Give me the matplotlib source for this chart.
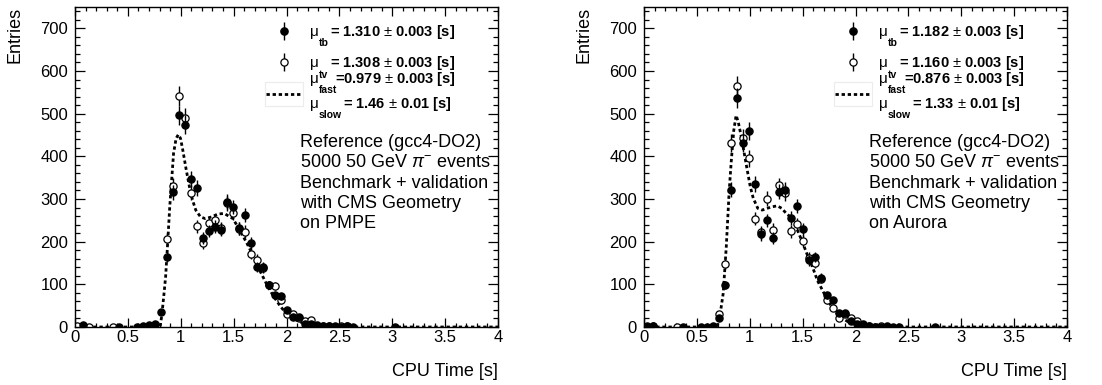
import numpy as np
import matplotlib
matplotlib.use("Agg")
import matplotlib.pyplot as plt
from matplotlib.patches import Rectangle
from matplotlib.ticker import MultipleLocator

plt.rcParams['font.family'] = ['Liberation Sans', 'DejaVu Sans']
plt.rcParams['mathtext.fontset'] = 'custom'
plt.rcParams['mathtext.rm'] = 'Liberation Sans'
plt.rcParams['mathtext.it'] = 'Liberation Sans:italic'
plt.rcParams['mathtext.bf'] = 'Liberation Sans:bold'

# ---- left panel (PMPE) ----
pmpe_tb_x = [0.076, 0.416, 0.586, 0.643, 0.700, 0.757, 0.813, 0.870, 0.927, 0.983,
             1.040, 1.097, 1.154, 1.210, 1.267, 1.324, 1.381, 1.437, 1.494, 1.551,
             1.608, 1.664, 1.721, 1.778, 1.835, 1.891, 1.948, 2.005, 2.061, 2.118,
             2.175, 2.232, 2.288, 2.345, 2.402, 2.459, 2.515, 2.572, 2.629, 3.024]
pmpe_tb_y = [4, 0, 0, 2, 4, 7, 35, 165, 316, 496,
             474, 346, 326, 208, 225, 235, 228, 294, 281, 231,
             262, 197, 141, 141, 99, 74, 72, 41, 23, 23,
             8, 8, 4, 3, 2, 2, 1, 2, 0, 0]
pmpe_tv_x = [0.019, 0.132, 0.359, 0.700, 0.870, 0.927, 0.983, 1.040, 1.097, 1.154,
             1.210, 1.267, 1.324, 1.381, 1.437, 1.494, 1.551, 1.608, 1.664, 1.721,
             1.778, 1.835, 1.891, 1.948, 2.005, 2.061, 2.118, 2.175, 2.232, 2.288,
             2.345, 2.402, 2.459, 2.515, 2.572]
pmpe_tv_y = [2, 1, 1, 2, 207, 330, 541, 490, 315, 236,
             198, 243, 250, 231, 290, 268, 230, 223, 172, 158,
             138, 99, 96, 63, 30, 30, 22, 15, 16, 3,
             2, 2, 1, 3, 2]
pmpe_fit_x = [0.0, 0.78, 0.806, 0.822, 0.842, 0.857, 0.878, 0.896, 0.914, 0.932,
              0.956, 0.977, 0.998, 1.022, 1.052, 1.082, 1.112, 1.142, 1.187, 1.232,
              1.292, 1.352, 1.412, 1.494, 1.557, 1.620, 1.683, 1.746, 1.809, 1.872,
              1.935, 1.998, 2.061, 2.125, 2.219, 2.314, 2.44, 2.6, 4.0]
pmpe_fit_y = [0, 0, 1, 30, 79, 118, 204, 282, 344, 407,
              442, 451, 442, 411, 368, 329, 297, 274, 258, 254,
              258, 265, 266, 254, 227, 199, 168, 133, 102, 74,
              51, 31, 20, 12, 5, 2, 1, 0, 0]
pmpe_legend = ["= 1.310 $\\pm$ 0.003 [s]", "= 1.308 $\\pm$ 0.003 [s]",
               "=0.979 $\\pm$ 0.003 [s]", "= 1.46 $\\pm$ 0.01 [s]"]
pmpe_info = ["Reference (gcc4-DO2)", "5000 50 GeV $\\pi^{-}$ events",
             "Benchmark + validation", "with CMS Geometry", "on PMPE"]

# ---- right panel (Aurora) ----
aurora_tb_x = [0.025, 0.082, 0.366, 0.536, 0.593, 0.650, 0.707, 0.763, 0.820, 0.877,
               0.934, 0.991, 1.047, 1.104, 1.161, 1.218, 1.275, 1.331, 1.388, 1.445,
               1.502, 1.559, 1.615, 1.672, 1.729, 1.786, 1.843, 1.899, 1.956, 2.013,
               2.070, 2.127, 2.183, 2.240, 2.297, 2.354, 2.411, 2.751]
aurora_tb_y = [2, 2, 0, 1, 1, 3, 20, 98, 322, 537,
               432, 459, 335, 217, 250, 209, 317, 322, 256, 284,
               229, 156, 164, 116, 74, 63, 33, 33, 14, 8,
               6, 2, 1, 0, 2, 1, 0, 0]
aurora_tv_x = [0.082, 0.309, 0.707, 0.763, 0.820, 0.877, 0.934, 0.991, 1.047, 1.104,
               1.161, 1.218, 1.275, 1.331, 1.388, 1.445, 1.502, 1.559, 1.615, 1.672,
               1.729, 1.786, 1.843, 1.899, 1.956, 2.013, 2.070, 2.127, 2.183, 2.240,
               2.297]
aurora_tv_y = [3, 1, 30, 148, 432, 565, 443, 395, 254, 222,
               301, 228, 332, 314, 224, 241, 202, 162, 151, 113,
               63, 45, 22, 30, 20, 13, 5, 3, 0, 2,
               1]
aurora_fit_x = [0.0, 0.65, 0.692, 0.72, 0.749, 0.778, 0.806, 0.826, 0.849, 0.871,
                0.891, 0.920, 0.948, 0.976, 1.005, 1.033, 1.076, 1.118, 1.161, 1.218,
                1.261, 1.303, 1.346, 1.404, 1.451, 1.498, 1.546, 1.593, 1.640, 1.688,
                1.735, 1.798, 1.861, 1.924, 2.019, 2.145, 2.27, 2.5, 4.0]
aurora_fit_y = [0, 0, 1, 30, 79, 188, 321, 391, 461, 496,
                481, 446, 407, 368, 329, 302, 278, 274, 278, 282,
                284, 278, 266, 254, 227, 199, 168, 141, 109, 86,
                63, 39, 23, 13, 6, 2, 1, 0, 0]
aurora_legend = ["= 1.182 $\\pm$ 0.003 [s]", "= 1.160 $\\pm$ 0.003 [s]",
                 "=0.876 $\\pm$ 0.003 [s]", "= 1.33 $\\pm$ 0.01 [s]"]
aurora_info = ["Reference (gcc4-DO2)", "5000 50 GeV $\\pi^{-}$ events",
               "Benchmark + validation", "with CMS Geometry", "on Aurora"]

W, H = 1102, 385


def draw_panel(ax, tb_x, tb_y, tv_x, tv_y, fit_x, fit_y, legend, info):
    tb_y = np.array(tb_y, float)
    tv_y = np.array(tv_y, float)

    ax.plot(fit_x, fit_y, ls=(0, (1.2, 1.0)), color='black', lw=2.0, zorder=1)
    ax.errorbar(tv_x, tv_y, yerr=np.sqrt(tv_y), fmt='o', ms=5.2, mfc='white',
                mec='black', mew=0.9, ecolor='black', elinewidth=1.0, capsize=0, zorder=2)
    ax.errorbar(tb_x, tb_y, yerr=np.sqrt(tb_y), fmt='o', ms=5.2, mfc='black',
                mec='black', mew=0.9, ecolor='black', elinewidth=1.0, capsize=0, zorder=3)

    ax.set_xlim(0, 4)
    ax.set_ylim(0, 750)
    ax.xaxis.set_minor_locator(MultipleLocator(0.1))
    ax.yaxis.set_major_locator(MultipleLocator(100))
    ax.yaxis.set_minor_locator(MultipleLocator(20))
    ax.set_xticks([0, 0.5, 1, 1.5, 2, 2.5, 3, 3.5, 4])
    ax.set_xticklabels(['0', '0.5', '1', '1.5', '2', '2.5', '3', '3.5', '4'])
    ax.tick_params(axis='both', which='both', direction='in', top=True, right=True,
                   labelsize=12, width=0.9)
    ax.tick_params(axis='x', which='major', length=6.5, pad=2)
    ax.tick_params(axis='x', which='minor', length=3.2)
    ax.tick_params(axis='y', which='major', length=7, pad=5)
    ax.tick_params(axis='y', which='minor', length=3.5)
    for s in ax.spines.values():
        s.set_linewidth(1.0)

    ax.text(1.0, -0.14, "CPU Time [s]", transform=ax.transAxes, ha='right',
            va='center', fontsize=13)
    ax.text(-0.142, 1.0, "Entries", transform=ax.transAxes, ha='center',
            va='top', rotation=90, fontsize=13)

    # legend, drawn the ROOT way
    tr = ax.transAxes
    ax.errorbar([0.494], [0.925], yerr=[0.028], fmt='o', ms=5.2, mfc='black',
                mec='black', ecolor='black', elinewidth=1.0, transform=tr, clip_on=False)
    ax.errorbar([0.494], [0.828], yerr=[0.028], fmt='o', ms=5.2, mfc='white',
                mec='black', mew=0.9, ecolor='black', elinewidth=1.0, transform=tr,
                clip_on=False)
    ax.plot([0.452, 0.537], [0.728, 0.728], ls=(0, (1.2, 1.0)), color='black',
            lw=2.0, transform=tr)
    ax.add_patch(Rectangle((0.449, 0.69), 0.091, 0.077, transform=tr, fill=False,
                           edgecolor='#ececec', lw=0.8))

    rows = [(0.922, 0.889, 'tb', 0.603, legend[0]),
            (0.825, 0.786, 'tv', 0.603, legend[1]),
            (0.775, 0.742, 'fast', 0.614, legend[2]),
            (0.697, 0.664, 'slow', 0.633, legend[3])]
    for y_mu, y_sub, sub, x_txt, txt in rows:
        ax.text(0.556, y_mu, "\u03bc", transform=tr, ha='left', va='center',
                fontsize=11)
        ax.text(0.577, y_sub, sub, transform=tr, ha='left', va='center',
                fontsize=7.5, fontweight='bold')
        ax.text(x_txt, y_mu, txt, transform=tr, ha='left', va='center',
                fontsize=10.5, fontweight='bold')

    for i, line in enumerate(info):
        ax.text(0.532, 0.575 - 0.0625 * i, line, transform=tr, ha='left',
                va='center', fontsize=13)


fig = plt.figure(figsize=(W / 100, H / 100), dpi=100)
ax1 = fig.add_axes([75 / W, 58 / H, 423 / W, 320 / H])
ax2 = fig.add_axes([644 / W, 58 / H, 423 / W, 320 / H])

draw_panel(ax1, pmpe_tb_x, pmpe_tb_y, pmpe_tv_x, pmpe_tv_y,
           pmpe_fit_x, pmpe_fit_y, pmpe_legend, pmpe_info)
draw_panel(ax2, aurora_tb_x, aurora_tb_y, aurora_tv_x, aurora_tv_y,
           aurora_fit_x, aurora_fit_y, aurora_legend, aurora_info)

fig.savefig("out.png", dpi=100)
